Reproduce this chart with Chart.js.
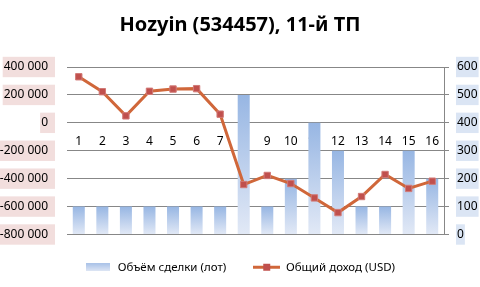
<!DOCTYPE html>
<html>
<head>
<meta charset="utf-8">
<script src="https://cdn.jsdelivr.net/npm/chart.js@4"></script>
<style>
  html, body { margin: 0; padding: 0; background: #fff; }
  #wrap { width: 480px; height: 287px; }
</style>
</head>
<body>
<div id="wrap"><canvas id="chart" width="480" height="287"></canvas></div>
<script>
// data
const categories = ['1', '2', '3', '4', '5', '6', '7', '8', '9', '10', '11', '12', '13', '14', '15', '16'];
const volumeLots = [100, 100, 100, 100, 100, 100, 100, 500, 100, 200, 400, 300, 100, 100, 300, 200];
const totalIncome = [330000, 223000, 50000, 226000, 242000, 245000, 62000, -442000, -377000, -435000, -538000, -643000, -528000, -370000, -470000, -418000];
const leftTicks = [-800000, -600000, -400000, -200000, 0, 200000, 400000];
const rightTicks = [0, 100, 200, 300, 400, 500, 600];

const FONT = '"Noto Sans", "DejaVu Sans", sans-serif';
const barTop = '#97b6e3';
const barBottom = '#e2e9f6';
const lineColor = '#d0673a';
const markerColor = '#c0504d';
const gridColor = '#878787';

function fmt(v) {
  const s = Math.abs(v).toString().replace(/\B(?=(\d{3})+(?!\d))/g, ' ');
  return (v < 0 ? '-' : '') + s;
}

// legend swatches
function barSwatch() {
  const c = document.createElement('canvas');
  c.width = 24; c.height = 8;
  const x = c.getContext('2d');
  const g = x.createLinearGradient(0, 0, 0, 8);
  g.addColorStop(0, '#a9c2e8');
  g.addColorStop(1, '#dfe7f5');
  x.fillStyle = g;
  x.fillRect(0, 0, 24, 8);
  return c;
}
function lineSwatch() {
  const c = document.createElement('canvas');
  c.width = 27; c.height = 9;
  const x = c.getContext('2d');
  x.strokeStyle = lineColor;
  x.lineWidth = 3;
  x.beginPath(); x.moveTo(0, 4.5); x.lineTo(27, 4.5); x.stroke();
  x.fillStyle = markerColor;
  x.fillRect(10, 1, 7, 7);
  return c;
}
const swatches = [barSwatch(), lineSwatch()];

new Chart(document.getElementById('chart'), {
  data: {
    labels: categories,
    datasets: [
      {
        type: 'line',
        label: 'Общий доход (USD)',
        data: totalIncome,
        yAxisID: 'y',
        borderColor: lineColor,
        borderWidth: 3,
        pointStyle: 'rect',
        pointRadius: 4.5,
        pointBackgroundColor: markerColor,
        pointBorderColor: '#d27a77',
        pointBorderWidth: 1,
        tension: 0,
        order: 0
      },
      {
        type: 'bar',
        label: 'Объём сделки (лот)',
        data: volumeLots,
        yAxisID: 'y1',
        backgroundColor: ctx => {
          const chart = ctx.chart;
          if (!chart.chartArea || ctx.type !== 'data') return barTop;
          const sc = chart.scales.y1;
          const top = sc.getPixelForValue(ctx.raw);
          const bottom = sc.getPixelForValue(0);
          const g = chart.ctx.createLinearGradient(0, top, 0, bottom);
          g.addColorStop(0, barTop);
          g.addColorStop(1, barBottom);
          return g;
        },
        borderWidth: 0,
        categoryPercentage: 1,
        barPercentage: 0.51,
        order: 1
      }
    ]
  },
  options: {
    responsive: false,
    animation: false,
    layout: { padding: { left: 0, right: 0, top: 0, bottom: 4 } },
    plugins: {
      title: {
        display: true,
        text: 'Hozyin (534457), 11-й ТП',
        color: '#000',
        font: { family: FONT, size: 20, weight: 'bold' },
        padding: { top: 13, bottom: 30 }
      },
      legend: {
        position: 'bottom',
        reverse: true,
        labels: {
          color: '#000',
          font: { family: FONT, size: 11.5 },
          usePointStyle: true,
          pointStyleWidth: 27,
          padding: 27,
          generateLabels: chart => {
            const items = Chart.defaults.plugins.legend.labels.generateLabels(chart);
            items.forEach(it => { it.pointStyle = swatches[it.datasetIndex === 1 ? 0 : 1]; });
            return items;
          }
        }
      },
      tooltip: { enabled: false }
    },
    scales: {
      x: {
        position: { y: 0 },
        offset: true,
        grid: { display: false, drawTicks: false },
        border: { display: false },
        ticks: { color: '#000', font: { family: FONT, size: 12 }, padding: 12, maxRotation: 0, autoSkip: false },
        afterFit: s => { s.height = 0; }
      },
      y: {
        position: 'left',
        min: -800000,
        max: 400000,
        afterBuildTicks: s => { s.ticks = leftTicks.map(v => ({ value: v })); },
        grid: { color: gridColor, lineWidth: 1, drawTicks: false },
        border: { display: false },
        ticks: {
          color: '#000',
          font: { family: FONT, size: 12 },
          padding: 19,
          callback: v => fmt(v),
          showLabelBackdrop: true,
          backdropColor: '#f2dedd',
          backdropPadding: { left: 1, right: 7, top: 3, bottom: 3 }
        },
        afterFit: s => { s.width = 67; }
      },
      y1: {
        position: 'right',
        min: 0,
        max: 600,
        afterBuildTicks: s => { s.ticks = rightTicks.map(v => ({ value: v })); },
        grid: { drawOnChartArea: false, color: gridColor, tickLength: 5 },
        border: { display: true, color: gridColor },
        ticks: {
          color: '#000',
          font: { family: FONT, size: 12 },
          padding: 8,
          showLabelBackdrop: true,
          backdropColor: '#dbe5f4',
          backdropPadding: { left: 1, right: 1, top: 3, bottom: 3 }
        },
        afterFit: s => { s.width = 36; }
      }
    }
  }
});
</script>
</body>
</html>
